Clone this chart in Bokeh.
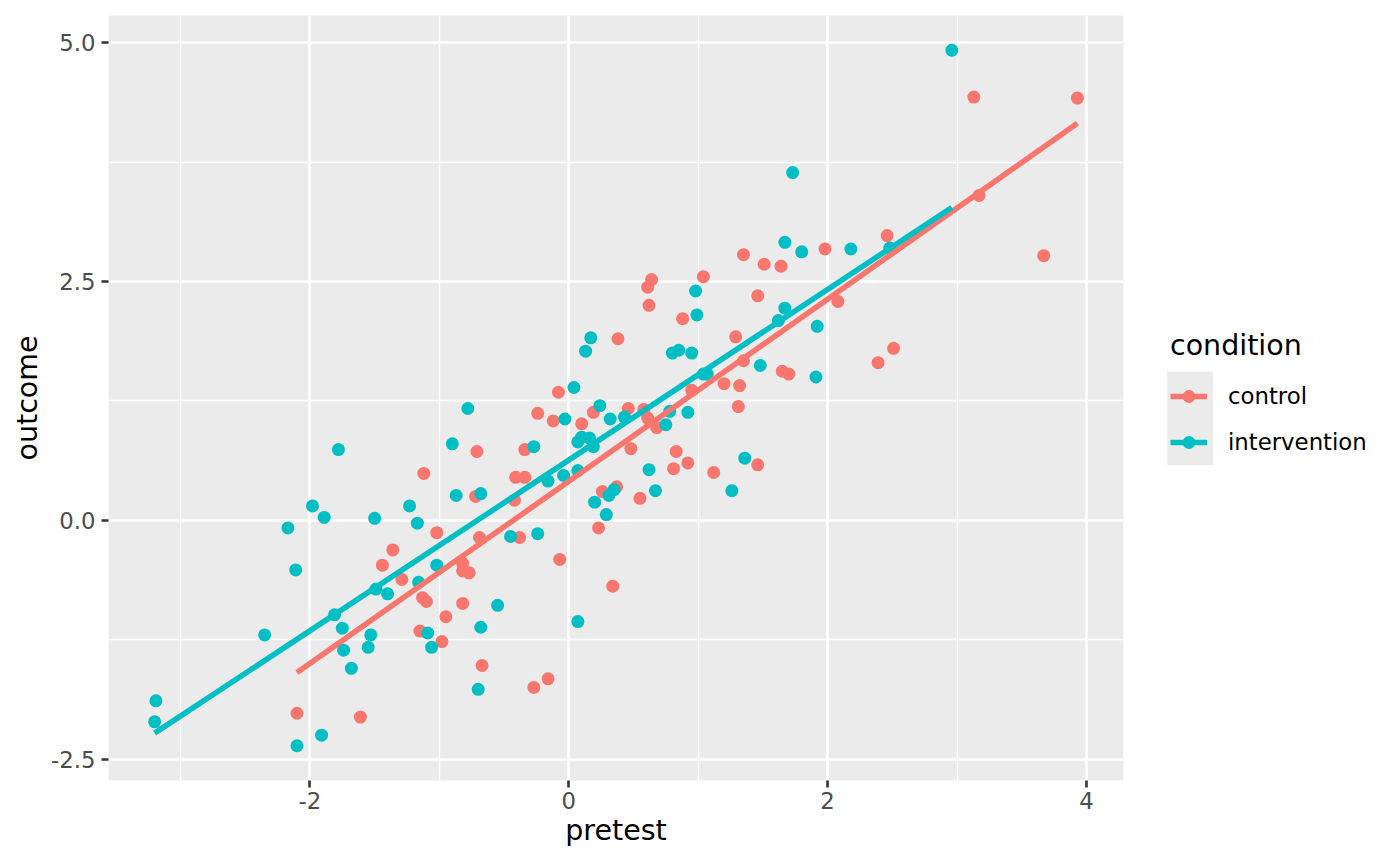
import numpy as np
from bokeh.plotting import figure
from bokeh.layouts import row
from bokeh.models import (Range1d, FixedTicker, Legend, LegendItem,
                          PrintfTickFormatter)
from bokeh.embed import file_html
from bokeh.resources import INLINE

# ---------------- data ----------------
ctrl_pretest = [-1.12, -1.02, -1.36, -1.44, -1.29, -1.13, -1.10, -0.95, -1.15, -0.98,
                -2.10, -1.61, 0.38, 1.29, 1.35, 1.65, 1.20, 1.32, 0.95, -0.08,
                1.31, 0.58, 0.46, -0.24, 0.19, -0.12, 0.10, 0.61, 0.68, -0.71,
                -0.34, 0.48, 0.83, 0.92, 0.81, 1.46, 1.12, -0.41, -0.34, 0.26,
                0.37, 0.55, -0.72, -0.42, 0.23, -0.38, -0.69, -0.07, -0.82, -0.82,
                -0.77, 0.34, -0.82, -0.67, -0.16, -0.27, 2.46, 1.98, 1.35, 1.51,
                1.64, 0.64, 0.61, 1.04, 1.46, 2.08, 0.62, 0.88, 2.39, 2.51,
                1.70, 3.13, 3.93, 3.17, 3.67]
ctrl_outcome = [0.49, -0.13, -0.31, -0.47, -0.62, -0.81, -0.85, -1.01, -1.16, -1.27,
                -2.02, -2.06, 1.90, 1.92, 1.67, 1.56, 1.43, 1.41, 1.36, 1.34,
                1.19, 1.16, 1.17, 1.12, 1.13, 1.04, 1.01, 1.07, 0.97, 0.72,
                0.74, 0.75, 0.72, 0.60, 0.54, 0.58, 0.50, 0.45, 0.45, 0.30,
                0.35, 0.23, 0.25, 0.21, -0.08, -0.18, -0.18, -0.41, -0.45, -0.53,
                -0.55, -0.69, -0.87, -1.52, -1.66, -1.75, 2.98, 2.84, 2.78, 2.68,
                2.66, 2.52, 2.44, 2.55, 2.35, 2.29, 2.25, 2.11, 1.65, 1.80,
                1.53, 4.43, 4.42, 3.40, 2.77]

int_pretest = [-1.78, -0.90, -1.98, -1.89, -2.17, -1.50, -1.23, -1.17, -2.11, -1.02,
               -1.16, -1.49, -1.40, -1.81, -1.75, -2.35, -1.53, -1.09, -1.74, -1.55,
               -1.06, -1.68, -3.19, -3.20, -2.10, -1.91, 0.17, 0.13, 0.80, 0.85,
               0.95, 1.48, 1.04, 0.04, 0.92, 0.78, 0.24, -0.78, -0.03, 0.32,
               0.43, 0.75, -0.27, 0.07, 0.10, 0.16, 0.19, 0.62, 1.36, -0.16,
               -0.04, 0.07, 1.26, 0.67, 0.35, 0.31, 0.20, 0.29, -0.87, -0.68,
               -0.45, -0.24, -0.55, -0.68, 0.07, -0.70, 1.73, 1.67, 1.80, 2.18,
               2.48, 0.98, 1.67, 1.62, 1.92, 0.99, 1.07, 1.91, 2.96]
int_outcome = [0.74, 0.80, 0.15, 0.03, -0.08, 0.02, 0.15, -0.03, -0.52, -0.47,
               -0.65, -0.72, -0.77, -0.99, -1.13, -1.20, -1.20, -1.18, -1.36, -1.33,
               -1.33, -1.55, -1.89, -2.11, -2.36, -2.25, 1.91, 1.77, 1.75, 1.78,
               1.75, 1.62, 1.53, 1.39, 1.13, 1.14, 1.20, 1.17, 1.06, 1.06,
               1.08, 1.00, 0.77, 0.82, 0.87, 0.86, 0.77, 0.53, 0.65, 0.41,
               0.47, 0.52, 0.31, 0.31, 0.32, 0.26, 0.19, 0.06, 0.26, 0.28,
               -0.17, -0.14, -0.89, -1.12, -1.06, -1.77, 3.64, 2.91, 2.81, 2.84,
               2.85, 2.40, 2.22, 2.09, 2.03, 2.15, 1.53, 1.50, 4.92]

conditions = ["control", "intervention"]
colors = ["#F8766D", "#00BFC4"]
x_ticks = [-2, 0, 2, 4]
x_minor = [-3, -1, 1, 3]
y_ticks = [-2.5, 0.0, 2.5, 5.0]
y_minor = [-1.25, 1.25, 3.75]

FONT = "DejaVu Sans"
H = 849
W_MAIN = 1143
W_LEG = 241
TOP = 15
BOTTOM = 68
FRAME_H = H - TOP - BOTTOM          # 766
FRAME_BOTTOM = TOP + FRAME_H        # 781 (page pixel of panel bottom)

# ---------------- ranges (ggplot-like 5 % expansion) ----------------
ax = np.array(ctrl_pretest + int_pretest)
ay = np.array(ctrl_outcome + int_outcome)
dx = (ax.max() - ax.min()) * 0.05
dy = (ay.max() - ay.min()) * 0.05

p = figure(width=W_MAIN, height=H, output_backend="svg", toolbar_location=None,
           x_range=Range1d(ax.min() - dx, ax.max() + dx),
           y_range=Range1d(ay.min() - dy, ay.max() + dy),
           background_fill_color="#EBEBEB", border_fill_color="white",
           min_border_left=108, min_border_right=20, min_border_top=TOP,
           min_border_bottom=BOTTOM)
p.outline_line_color = None

for g in (p.xgrid, p.ygrid):
    g.grid_line_color = "white"
    g.grid_line_width = 2.6
    g.minor_grid_line_color = "white"
    g.minor_grid_line_width = 1.3

p.xaxis.ticker = FixedTicker(ticks=x_ticks, minor_ticks=x_minor)
p.yaxis.ticker = FixedTicker(ticks=y_ticks, minor_ticks=y_minor)
p.xaxis.formatter = PrintfTickFormatter(format="%d")
p.yaxis.formatter = PrintfTickFormatter(format="%.1f")

for a in (p.xaxis, p.yaxis):
    a.axis_line_color = None
    a.major_tick_line_color = "#333333"
    a.major_tick_line_width = 2.6
    a.major_tick_out = 7
    a.major_tick_in = 0
    a.minor_tick_line_color = None
    a.major_label_text_color = "#4D4D4D"
    a.major_label_text_font = FONT
    a.major_label_text_font_size = "22.8px"
    a.axis_label_text_font = FONT
    a.axis_label_text_font_size = "28.5px"
    a.axis_label_text_font_style = "normal"
    a.axis_label_text_color = "black"

p.xaxis.axis_label = "pretest"
p.yaxis.axis_label = "outcome"
p.xaxis.major_label_standoff = 4
p.yaxis.major_label_standoff = 6
p.xaxis.axis_label_standoff = 2
p.yaxis.axis_label_standoff = 4

# points
for xs, ys, c in ((ctrl_pretest, ctrl_outcome, colors[0]),
                  (int_pretest, int_outcome, colors[1])):
    p.scatter(xs, ys, size=13, fill_color=c, line_color=None)

# linear fits (least squares, drawn over the observed pretest range)
for xs, ys, c in ((ctrl_pretest, ctrl_outcome, colors[0]),
                  (int_pretest, int_outcome, colors[1])):
    xa = np.array(xs); ya = np.array(ys)
    slope, intercept = np.polyfit(xa, ya, 1)
    lx = np.array([xa.min(), xa.max()])
    p.line(lx, intercept + slope * lx, line_color=c, line_width=5.5)

# ---------------- legend panel (separate canvas to the right) ----------------
q = figure(width=W_LEG, height=H, output_backend="svg", toolbar_location=None,
           x_range=Range1d(0, W_LEG), y_range=Range1d(0, FRAME_H),
           x_axis_type=None, y_axis_type=None,
           background_fill_color="white", border_fill_color="white",
           min_border_left=0, min_border_right=0,
           min_border_top=TOP, min_border_bottom=BOTTOM)
q.outline_line_color = None
q.grid.visible = False

# grey key background (legend decoration, panel pixels from panel bottom)
q.quad(left=[23.7], right=[69.7],
       top=[FRAME_BOTTOM - 371.7], bottom=[FRAME_BOTTOM - 465.0],
       fill_color="#EBEBEB", line_color=None)

proxies = []
for c in colors:
    rl = q.line([float("nan")], [float("nan")], line_color=c, line_width=5.5)
    rp = q.scatter([float("nan")], [float("nan")], size=13, fill_color=c,
                   line_color=None)
    proxies.append([rl, rp])

legend = Legend(items=[LegendItem(label=conditions[i], renderers=proxies[i])
                       for i in range(2)],
                title="condition", location=(27, FRAME_BOTTOM - 458.7),
                orientation="vertical",
                title_text_font=FONT, title_text_font_size="28.5px",
                title_text_font_style="normal", title_text_color="black",
                title_standoff=18,
                label_text_font=FONT, label_text_font_size="22.8px",
                label_text_color="black",
                glyph_width=37, glyph_height=32, spacing=14, label_standoff=21,
                padding=0, margin=0, border_line_color=None,
                background_fill_alpha=0)
q.add_layout(legend, "center")

layout = row(p, q)
open("out.html", "w").write(file_html(layout, INLINE))
